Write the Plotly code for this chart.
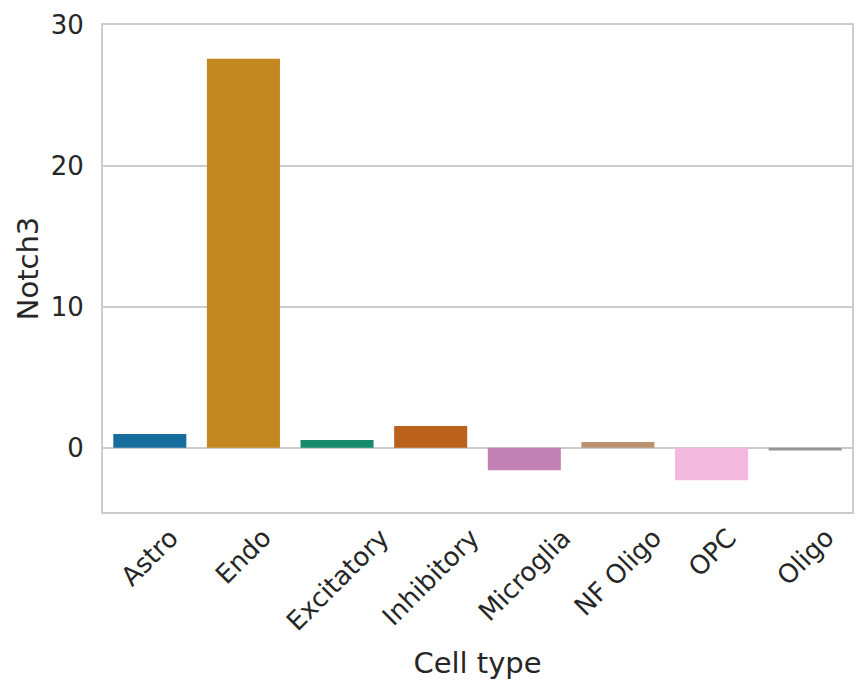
import colorsys
import plotly.graph_objects as go

categories = ["Astro", "Endo", "Excitatory", "Inhibitory", "Microglia", "NF Oligo", "OPC", "Oligo"]
values = [0.97, 27.6, 0.55, 1.54, -1.6, 0.41, -2.3, -0.2]
y_ticks = [0, 10, 20, 30]
x_title = "Cell type"
y_title = "Notch3"

base_palette = ["#0173b2", "#de8f05", "#029e73", "#d55e00", "#cc78bc", "#ca9161", "#fbafe4", "#949494"]


def desaturate(hex_color, prop=0.75):
    r, g, b = (int(hex_color[i:i + 2], 16) / 255 for i in (1, 3, 5))
    h, l, s = colorsys.rgb_to_hls(r, g, b)
    r, g, b = colorsys.hls_to_rgb(h, l, s * prop)
    return "#%02x%02x%02x" % (round(r * 255), round(g * 255), round(b * 255))


colors = [desaturate(c) for c in base_palette]

FONT = "DejaVu Sans"
TXT = "#262626"
GRID = "#cccccc"

fig = go.Figure(go.Bar(x=categories, y=values, marker=dict(color=colors, line=dict(width=0)), width=0.78))

for cat in categories:
    fig.add_annotation(x=cat, xref="x", y=0, yref="paper", yshift=-8, text=cat,
                       textangle=-45, xanchor="center", yanchor="top", showarrow=False,
                       font=dict(family=FONT, size=26, color=TXT))

fig.update_layout(
    width=851, height=678,
    margin=dict(l=95, r=7, t=17, b=174),
    paper_bgcolor="white", plot_bgcolor="white",
    showlegend=False,
    font=dict(family=FONT, color=TXT),
    xaxis=dict(showticklabels=False, showgrid=False, zeroline=False, automargin=False,
               showline=True, mirror=True, linecolor=GRID, linewidth=2,
               range=[-0.5, len(categories) - 0.5],
               title=dict(text=x_title, standoff=140, font=dict(family=FONT, size=29, color=TXT))),
    yaxis=dict(range=[-4.56, 30], tickvals=y_ticks, showgrid=True, gridcolor=GRID, gridwidth=1.6,
               zeroline=False, showline=True, mirror=True, linecolor=GRID, linewidth=2, automargin=False,
               ticks="", ticklabelstandoff=12,
               tickfont=dict(family=FONT, size=26, color=TXT),
               title=dict(text=y_title, standoff=4, font=dict(family=FONT, size=29, color=TXT))),
)

fig.write_html("out.html")
